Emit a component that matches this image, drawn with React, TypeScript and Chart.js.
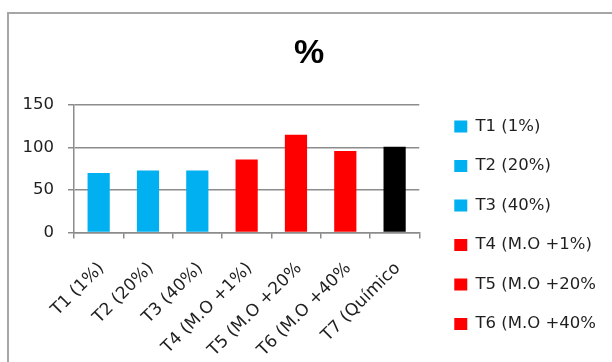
import React, { useEffect, useRef } from "react";
import { Chart, registerables } from "chart.js";

Chart.register(...registerables);

const categories = [
  "T1 (1%)",
  "T2 (20%)",
  "T3 (40%)",
  "T4 (M.O +1%)",
  "T5 (M.O +20%",
  "T6 (M.O +40%",
  "T7 (Químico",
];
const values = [70, 73, 73, 86, 115, 96, 101];
const barColors = ["#00B0F0", "#00B0F0", "#00B0F0", "#FF0000", "#FF0000", "#FF0000", "#000000"];
const yTicks = [0, 50, 100, 150];
const titleText = "%";
const legendVisibleCount = 6;

const GRID = "#8c8c8c";
const TEXT = "#1f1f1f";
const FONT = "'DejaVu Sans', Verdana, sans-serif";

export default function App() {
  const ref = useRef<HTMLCanvasElement | null>(null);
  useEffect(() => {
    if (!ref.current) return;
    const chart = new Chart(ref.current, {
      type: "bar",
      data: {
        labels: categories,
        datasets: [
          {
            data: values,
            backgroundColor: barColors,
            borderWidth: 0,
            barPercentage: 0.45,
            categoryPercentage: 1,
          },
        ],
      },
      options: {
        responsive: false,
        animation: false,
        layout: { padding: { left: 0, right: 6, top: 0, bottom: 0 } },
        plugins: {
          tooltip: { enabled: false },
          title: {
            display: true,
            text: titleText,
            color: "#000",
            font: { family: "'Liberation Sans', Arial, sans-serif", size: 34, weight: "bold", lineHeight: 1.2 },
            padding: { top: 33.6, bottom: 30.6 },
          },
          legend: {
            display: true,
            position: "right",
            align: "start",
            maxWidth: 260,
            title: {
              display: true,
              text: "",
              font: { size: 10, lineHeight: 1 },
              padding: { top: 85.2, bottom: 0 },
            },
            labels: {
              boxWidth: 13,
              boxHeight: 12,
              padding: 23,
              color: TEXT,
              font: { family: FONT, size: 16.5 },
              generateLabels: () =>
                categories.map((t, i) => ({
                  text: t,
                  fillStyle: barColors[i],
                  strokeStyle: barColors[i],
                  lineWidth: 0,
                  hidden: false,
                  index: i,
                  fontColor: TEXT,
                })),
              filter: (item: any) => item.index < legendVisibleCount,
            },
          },
        },
        scales: {
          x: {
            type: "category",
            grid: {
              display: true,
              drawOnChartArea: false,
              drawTicks: true,
              tickLength: 6,
              color: GRID,
              lineWidth: 1.5,
              offset: true,
            },
            border: { display: true, color: GRID, width: 1.5 },
            ticks: {
              autoSkip: false,
              minRotation: 45,
              maxRotation: 45,
              color: TEXT,
              font: { family: FONT, size: 17 },
              padding: 20,
              labelOffset: 3,
            },
            afterFit: (s: any) => {
              s.height = 420 - 232.5;
            },
          },
          y: {
            type: "linear",
            position: "left",
            min: 0,
            max: 150,
            afterBuildTicks: (s: any) => {
              s.ticks = yTicks.map((v) => ({ value: v }));
            },
            grid: {
              color: GRID,
              lineWidth: 1.5,
              tickLength: 6,
              drawTicks: true,
            },
            border: { display: true, color: GRID, width: 1.5 },
            ticks: {
              color: TEXT,
              font: { family: FONT, size: 16.5 },
              padding: 14,
              crossAlign: "near",
            },
            afterFit: (s: any) => {
              s.width = 62;
            },
          },
          y2: {
            type: "linear",
            position: "right",
            display: true,
            grid: { display: false, drawTicks: false },
            border: { display: false },
            ticks: { display: false },
            afterFit: (s: any) => {
              s.width = 12;
            },
          },
        },
      },
    });
    return () => chart.destroy();
  }, []);

  return (
    <div
      style={{
        position: "fixed",
        left: 0,
        top: 0,
        width: 612,
        height: 362,
        overflow: "hidden",
        background: "#fff",
      }}
    >
      <div
        style={{
          position: "absolute",
          left: 7,
          top: 12,
          width: 800,
          height: 600,
          border: "2px solid #a6a6a6",
          boxSizing: "border-box",
        }}
      />
      <canvas
        ref={ref}
        width={600}
        height={420}
        style={{ position: "absolute", left: 12, top: 0, width: 600, height: 420 }}
      />
    </div>
  );
}
